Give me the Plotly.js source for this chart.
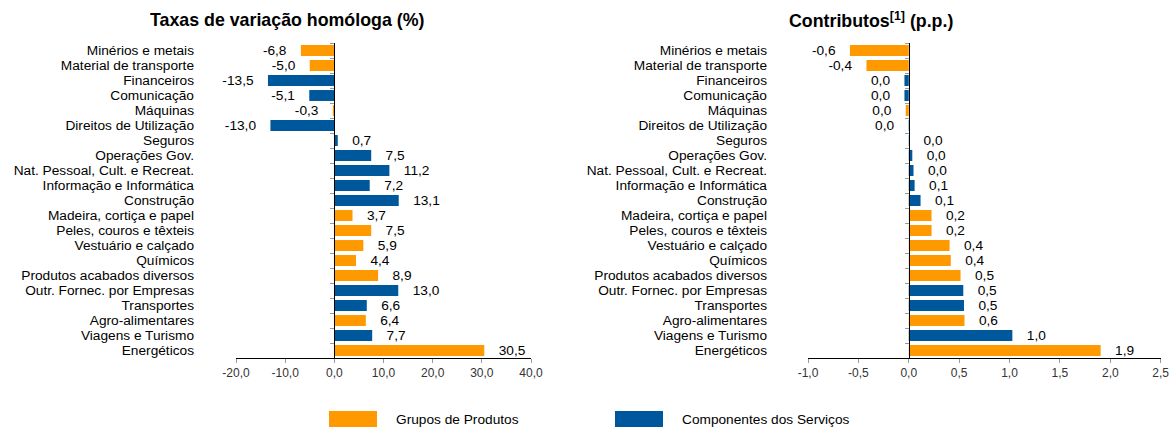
<!DOCTYPE html>
<html>
<head>
<meta charset="utf-8">
<script src="https://cdn.plot.ly/plotly-3.0.1.min.js"></script>
<style>html,body{margin:0;padding:0;background:#fff;}#chart{width:1175px;height:428px;}</style>
</head>
<body>
<div id="chart"></div>
<script>
// ---- data ----
const categories = [
  "Minérios e metais", "Material de transporte", "Financeiros", "Comunicação",
  "Máquinas", "Direitos de Utilização", "Seguros", "Operações Gov.",
  "Nat. Pessoal, Cult. e Recreat.", "Informação e Informática", "Construção",
  "Madeira, cortiça e papel", "Peles, couros e têxteis", "Vestuário e calçado",
  "Químicos", "Produtos acabados diversos", "Outr. Fornec. por Empresas",
  "Transportes", "Agro-alimentares", "Viagens e Turismo", "Energéticos"
];
// P = Grupos de Produtos, S = Componentes dos Serviços
const grupo = ["P","P","S","S","P","S","S","S","S","S","S","P","P","P","P","P","S","S","P","S","P"];
const taxas = [-6.8, -5.0, -13.5, -5.1, -0.3, -13.0, 0.7, 7.5, 11.2, 7.2, 13.1,
               3.7, 7.5, 5.9, 4.4, 8.9, 13.0, 6.6, 6.4, 7.7, 30.5];
const contributos = [-0.584, -0.42, -0.043, -0.043, -0.03, -0.003, 0.003, 0.035, 0.047, 0.058, 0.117,
                     0.226, 0.226, 0.405, 0.417, 0.514, 0.541, 0.548, 0.553, 1.028, 1.904];
const seriesNames = {P: "Grupos de Produtos", S: "Componentes dos Serviços"};
const seriesColors = {P: "#FF9900", S: "#00589C"};
const xTicksLeft = [-20, -10, 0, 10, 20, 30, 40];
const xTicksRight = [-1.0, -0.5, 0.0, 0.5, 1.0, 1.5, 2.0, 2.5];

// ---- helpers ----
const NB = "\u00a0\u00a0\u00a0";
function num(v) {
  let s = v.toFixed(1);
  if (parseFloat(s) === 0) s = "0.0";
  return s.replace(".", ",");
}
function fmt(v) {
  const s = num(v);
  return v < 0 ? s + NB : NB + s;
}
const FONT = "Liberation Sans, Arial, sans-serif";
const FS = 13.7;

function barTraces(values, xa, ya) {
  return ["P", "S"].map(g => {
    const ys = [], xs = [], ts = [];
    values.forEach((v, i) => { if (grupo[i] === g) { ys.push(categories[i]); xs.push(v); ts.push(fmt(v)); } });
    return {
      type: "bar", orientation: "h", name: seriesNames[g],
      y: ys, x: xs, text: ts,
      textposition: "outside", cliponaxis: false, constraintext: "none",
      textfont: {family: FONT, size: FS, color: "#000"},
      marker: {color: seriesColors[g], line: {width: 0}},
      xaxis: xa, yaxis: ya, hoverinfo: "skip", showlegend: false
    };
  });
}
function dummy(xa, ya) {
  return {type: "scatter", mode: "markers", y: categories, x: categories.map(() => 0),
          marker: {opacity: 0}, xaxis: xa, yaxis: ya, hoverinfo: "skip", showlegend: false};
}

const W = 1175, H = 428;
const dL = [236 / W, 531 / W], dR = [808 / W, 1160.7 / W];
const dY = [1 - 358 / H, 1 - 43 / H];
const rL = [-20, 40], rR = [-1, 2.5];
const zeroPos = (d, r) => d[0] + (0 - r[0]) / (r[1] - r[0]) * (d[1] - d[0]);

const catAxis = (domain, anchor, standoff) => ({
  domain: domain, anchor: anchor, type: "category",
  categoryorder: "array", categoryarray: categories,
  tickmode: "array", tickvals: categories, ticktext: categories,
  range: [categories.length - 0.5, -0.5],
  ticks: "", showline: false, showgrid: false, zeroline: false,
  ticklabelstandoff: standoff, ticklabeloverflow: "allow",
  tickfont: {family: FONT, size: FS, color: "#000"}, fixedrange: true
});
const zeroAxis = (overlay, pos) => ({
  overlaying: overlay, anchor: "free", position: pos, side: "left",
  type: "category", categoryorder: "array", categoryarray: categories,
  range: [categories.length - 0.5, -0.5],
  ticks: "outside", tickson: "boundaries", ticklen: 4, tickcolor: "#9a9a9a", tickwidth: 1,
  showticklabels: false, showline: true, linecolor: "#000", linewidth: 1,
  showgrid: false, zeroline: false, fixedrange: true
});
const valAxis = (domain, anchor, range, ticks) => ({
  domain: domain, anchor: anchor, range: range,
  tickmode: "array", tickvals: ticks, ticktext: ticks.map(num),
  ticks: "outside", ticklen: 4, tickcolor: "#9a9a9a",
  showline: true, linecolor: "#000", linewidth: 1,
  showgrid: false, zeroline: false,
  tickfont: {family: FONT, size: 12, color: "#333"}, fixedrange: true
});

const data = [
  ...barTraces(taxas, "x", "y"),
  dummy("x", "y3"),
  ...barTraces(contributos, "x2", "y2"),
  dummy("x2", "y4")
];

const layout = {
  width: W, height: H,
  margin: {l: 0, r: 0, t: 0, b: 0},
  paper_bgcolor: "#fff", plot_bgcolor: "rgba(0,0,0,0)",
  separators: ",.",
  barmode: "overlay", bargap: 0.27,
  showlegend: false,
  font: {family: FONT, size: FS, color: "#000"},
  xaxis: valAxis(dL, "y", rL, xTicksLeft),
  yaxis: catAxis(dY, "x", 41),
  yaxis3: zeroAxis("y", zeroPos(dL, rL)),
  xaxis2: valAxis(dR, "y2", rR, xTicksRight),
  yaxis2: catAxis(dY, "x2", 40),
  yaxis4: zeroAxis("y2", zeroPos(dR, rR)),
  annotations: [
    {xref: "paper", yref: "paper", x: 287 / W, y: 1 - 20 / H, xanchor: "center", yanchor: "middle",
     text: "Taxas de variação homóloga (%)", showarrow: false,
     font: {family: FONT, size: 17.8, color: "#000", weight: "bold"}},
    {xref: "paper", yref: "paper", x: 871 / W, y: 1 - 20 / H, xanchor: "center", yanchor: "middle",
     text: "Contributos<sup>[1]</sup> (p.p.)", showarrow: false,
     font: {family: FONT, size: 17.8, color: "#000", weight: "bold"}},
    {xref: "paper", yref: "paper", x: 394 / W, y: 1 - 419 / H, xanchor: "left", yanchor: "middle",
     text: seriesNames.P, showarrow: false, font: {family: FONT, size: FS, color: "#000"}},
    {xref: "paper", yref: "paper", x: 680 / W, y: 1 - 419 / H, xanchor: "left", yanchor: "middle",
     text: seriesNames.S, showarrow: false, font: {family: FONT, size: FS, color: "#000"}}
  ],
  shapes: [
    {type: "rect", xref: "paper", yref: "paper", x0: 329 / W, x1: 377 / W, y0: 1 - 427 / H, y1: 1 - 411 / H,
     fillcolor: seriesColors.P, line: {width: 0}},
    {type: "rect", xref: "paper", yref: "paper", x0: 615 / W, x1: 663 / W, y0: 1 - 427 / H, y1: 1 - 411 / H,
     fillcolor: seriesColors.S, line: {width: 0}}
  ]
};

Plotly.newPlot("chart", data, layout, {staticPlot: true, displayModeBar: false});
</script>
</body>
</html>
